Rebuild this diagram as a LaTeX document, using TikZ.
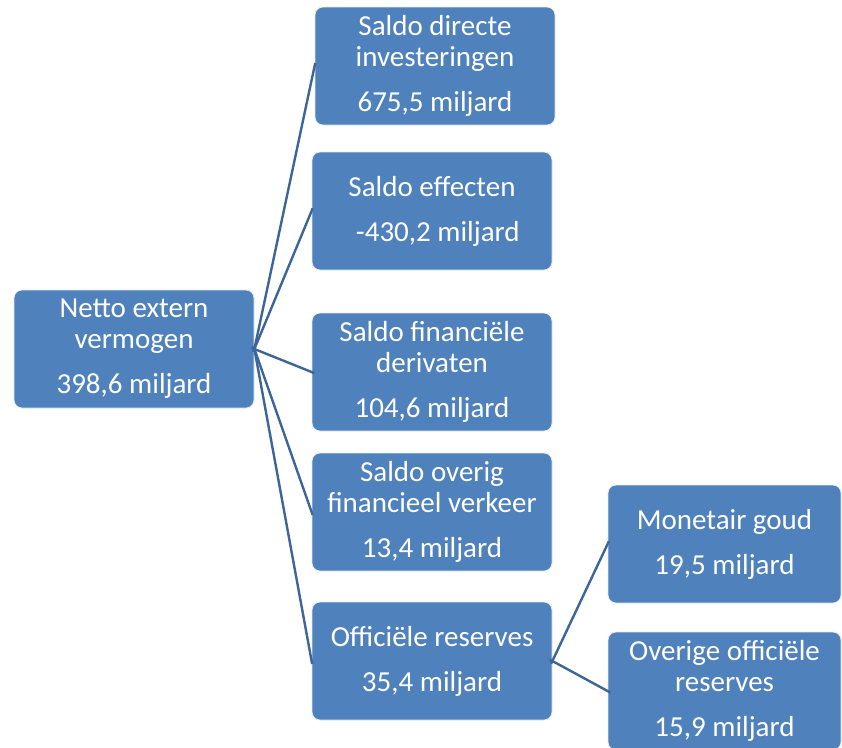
\documentclass[tikz,border=0pt]{standalone}
\usepackage{fontspec}
\setmainfont{Carlito}
\definecolor{boxblue}{HTML}{4F81BD}
\definecolor{linkblue}{HTML}{3D6597}
\begin{document}
\begin{tikzpicture}[x=1pt,y=-1pt,
  box/.style={rectangle, rounded corners=8pt, fill=boxblue, draw=white!85!boxblue, line width=0.8pt,
    minimum width=240pt, minimum height=118pt, inner sep=0pt, align=center, text=white,
    font=\fontsize{29}{31}\selectfont},
  link/.style={draw=linkblue, line width=2.4pt}]
\useasboundingbox (0,0) rectangle (842,747);
\node[box] (root) at (134,349) {Netto extern\\vermogen\\[14pt]398,6 miljard};
\node[box] (b1) at (435,66) {Saldo directe\\investeringen\\[14pt]675,5 miljard};
\node[box] (b2) at (432,211) {Saldo effecten\\[14pt]\hspace*{0.4em}-430,2 miljard};
\node[box] (b3) at (432,372) {Saldo financiële\\derivaten\\[14pt]104,6 miljard};
\node[box] (b4) at (432,512) {Saldo overig\\financieel verkeer\\[14pt]13,4 miljard};
\node[box] (b5) at (432,661) {Officiële reserves\\[14pt]35,4 miljard};
\node[box, minimum width=233pt] (b6) at (724.5,544) {Monetair goud\\[14pt]19,5 miljard};
\node[box, minimum width=233pt] (b7) at (724.5,691) {Overige officiële\\reserves\\[14pt]15,9 miljard};
\foreach \c in {b1,b2,b3,b4,b5}
  \draw[link, shorten <=-3pt, shorten >=-3pt] (root.east) -- (\c.west);
\foreach \c in {b6,b7}
  \draw[link, shorten <=-3pt, shorten >=-3pt] (b5.east) -- (\c.west);
\end{tikzpicture}
\end{document}
